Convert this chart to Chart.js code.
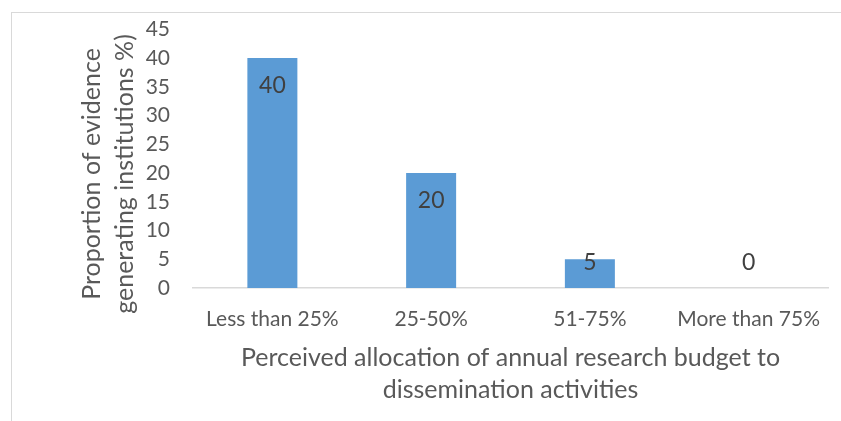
<!DOCTYPE html>
<html>
<head>
<meta charset="utf-8">
<script src="https://cdn.jsdelivr.net/npm/chart.js@4.4.1/dist/chart.umd.min.js"></script>
<style>
  html, body { margin: 0; padding: 0; background: #fff; }
  #wrap { position: relative; width: 841px; height: 421px; overflow: hidden; }
  #frame { position: absolute; left: 11px; top: 12px; width: 900px; height: 500px;
           border-left: 1.5px solid #d9d9d9; border-top: 1.5px solid #d9d9d9; }
  canvas { position: absolute; left: 0; top: 0; }
</style>
</head>
<body>
<div id="wrap">
  <div id="frame"></div>
  <canvas id="chart" width="841" height="421"></canvas>
</div>
<script>
const categories = ['Less than 25%', '25-50%', '51-75%', 'More than 75%'];
const values = [40, 20, 5, 0];
const yTitle = ['Proportion of evidence', 'generating institutions %)'];
const xTitle = ['Perceived allocation of annual research budget to', 'dissemination activities'];

const FONT = 'Lato, "Open Sans", sans-serif';

// labels inside the end of each bar, like Excel does
const barLabels = {
  id: 'barLabels',
  afterDatasetsDraw(chart) {
    const ctx = chart.ctx;
    const base = chart.scales.y.getPixelForValue(0);
    ctx.save();
    ctx.font = '23px ' + FONT;
    ctx.fillStyle = '#404040';
    ctx.textAlign = 'center';
    ctx.textBaseline = 'middle';
    chart.getDatasetMeta(0).data.forEach((bar, i) => {
      const y = Math.min(bar.y + 28, base - 25);
      ctx.fillText(String(values[i]), bar.x, y);
    });
    ctx.restore();
  }
};

// axis titles (two lines each)
const axisTitles = {
  id: 'axisTitles',
  afterDraw(chart) {
    const ctx = chart.ctx;
    const area = chart.chartArea;
    ctx.save();
    ctx.font = '25px ' + FONT;
    ctx.fillStyle = '#595959';
    ctx.textAlign = 'center';
    ctx.textBaseline = 'alphabetic';
    const cx = (area.left + area.right) / 2;
    xTitle.forEach((t, i) => ctx.fillText(t, cx, area.bottom + 78 + i * 32));
    ctx.translate(0, 174);
    ctx.rotate(-Math.PI / 2);
    yTitle.forEach((t, i) => ctx.fillText(t, 0, 100 + i * 33));
    ctx.restore();
  }
};

new Chart(document.getElementById('chart'), {
  type: 'bar',
  data: {
    labels: categories,
    datasets: [{
      data: values,
      backgroundColor: '#5b9bd5',
      borderWidth: 0,
      categoryPercentage: 1,
      barPercentage: 0.315
    }]
  },
  options: {
    responsive: false,
    animation: false,
    layout: { padding: { left: 0, right: 13, top: 0, bottom: 0 } },
    plugins: {
      legend: { display: false },
      tooltip: { enabled: false }
    },
    scales: {
      x: {
        grid: { display: false, drawTicks: false },
        border: { color: '#d9d9d9', width: 1.5 },
        ticks: { color: '#595959', font: { family: FONT, size: 21 }, padding: 19, maxRotation: 0, autoSkip: false },
        afterFit(scale) { scale.height = 133; }
      },
      y: {
        min: 0,
        max: 45,
        grid: { display: false, drawTicks: false },
        border: { display: false },
        // small lineHeight keeps the top padding (label half height + padding) near 29px
        ticks: { stepSize: 5, color: '#595959', font: { family: FONT, size: 21, lineHeight: 0.6 }, padding: 23, autoSkip: false },
        afterFit(scale) { scale.width = 193; }
      }
    }
  },
  plugins: [barLabels, axisTitles]
});
</script>
</body>
</html>
